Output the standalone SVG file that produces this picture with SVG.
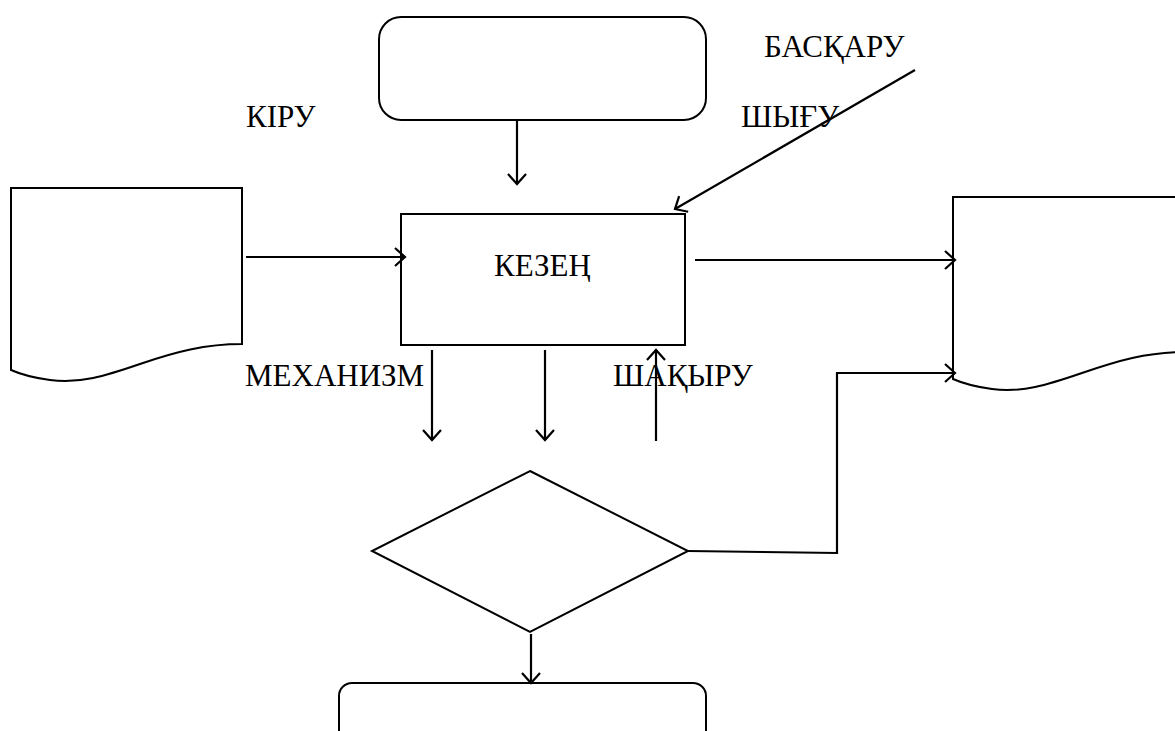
<svg xmlns="http://www.w3.org/2000/svg" width="1175" height="731" viewBox="0 0 1175 731">
  <defs>
    <marker id="arrow" markerWidth="18" markerHeight="22" refX="14" refY="11" orient="auto" markerUnits="userSpaceOnUse">
      <path d="M4,2 L14,11 L4,20" fill="none" stroke="#000" stroke-width="2.2"/>
    </marker>
    <style>
      .shape { fill: #fff; stroke: #000; stroke-width: 2; }
      .arr { fill: none; stroke: #000; stroke-width: 2.2; marker-end: url(#arrow); }
      .lbl { font-family: "Liberation Serif", "Times New Roman", serif; font-size: 31px; fill: #000; }
    </style>
  </defs>
  <rect width="1175" height="731" fill="#fff"/>

  <!-- top terminator -->
  <g id="top-box">
    <rect class="shape" x="379" y="17" width="327" height="103" rx="22" ry="22"/>
  </g>

  <!-- process stage -->
  <g id="stage">
    <rect class="shape" x="401" y="214" width="284" height="131"/>
    <text class="lbl" x="494" y="276">КЕЗЕҢ</text>
  </g>

  <!-- input document -->
  <g id="input-doc">
    <path class="shape" d="M11,188 L242,188 L242,344 C205,344 175,352 140,364 C105,376 80,384 50,380 C35,378 20,374 11,370 Z"/>
  </g>

  <!-- output document -->
  <g id="output-doc">
    <path class="shape" d="M953,197 L1184,197 L1184,352 C1147,352 1117,361 1082,373 C1047,385 1022,393 992,389 C977,387 962,383 953,379 Z"/>
  </g>

  <!-- decision -->
  <g id="decision">
    <polygon class="shape" points="530,471 688,551 530,632 372,551"/>
  </g>

  <!-- bottom terminator -->
  <g id="bottom-box">
    <rect class="shape" x="339" y="683" width="367" height="80" rx="13" ry="13"/>
  </g>

  <!-- labels -->
  <g id="labels">
    <text class="lbl" x="246" y="127">КІРУ</text>
    <text class="lbl" x="764" y="57">БАСҚАРУ</text>
    <text class="lbl" x="741" y="127">ШЫҒУ</text>
    <text class="lbl" x="245" y="386">МЕХАНИЗМ</text>
    <text class="lbl" x="613" y="386">ШАҚЫРУ</text>
  </g>

  <!-- connectors -->
  <g id="connectors">
    <line class="arr" x1="517" y1="120" x2="517" y2="184"/>
    <line class="arr" x1="915" y1="70" x2="675" y2="209"/>
    <line class="arr" x1="246" y1="257" x2="405" y2="257"/>
    <line class="arr" x1="695" y1="260" x2="955" y2="260"/>
    <line class="arr" x1="432" y1="350" x2="432" y2="440"/>
    <line class="arr" x1="545" y1="350" x2="545" y2="440"/>
    <line class="arr" x1="656" y1="441" x2="656" y2="350"/>
    <polyline class="arr" points="688,551 837,553 837,373 955,373"/>
    <line class="arr" x1="531" y1="634" x2="531" y2="683"/>
  </g>
</svg>
